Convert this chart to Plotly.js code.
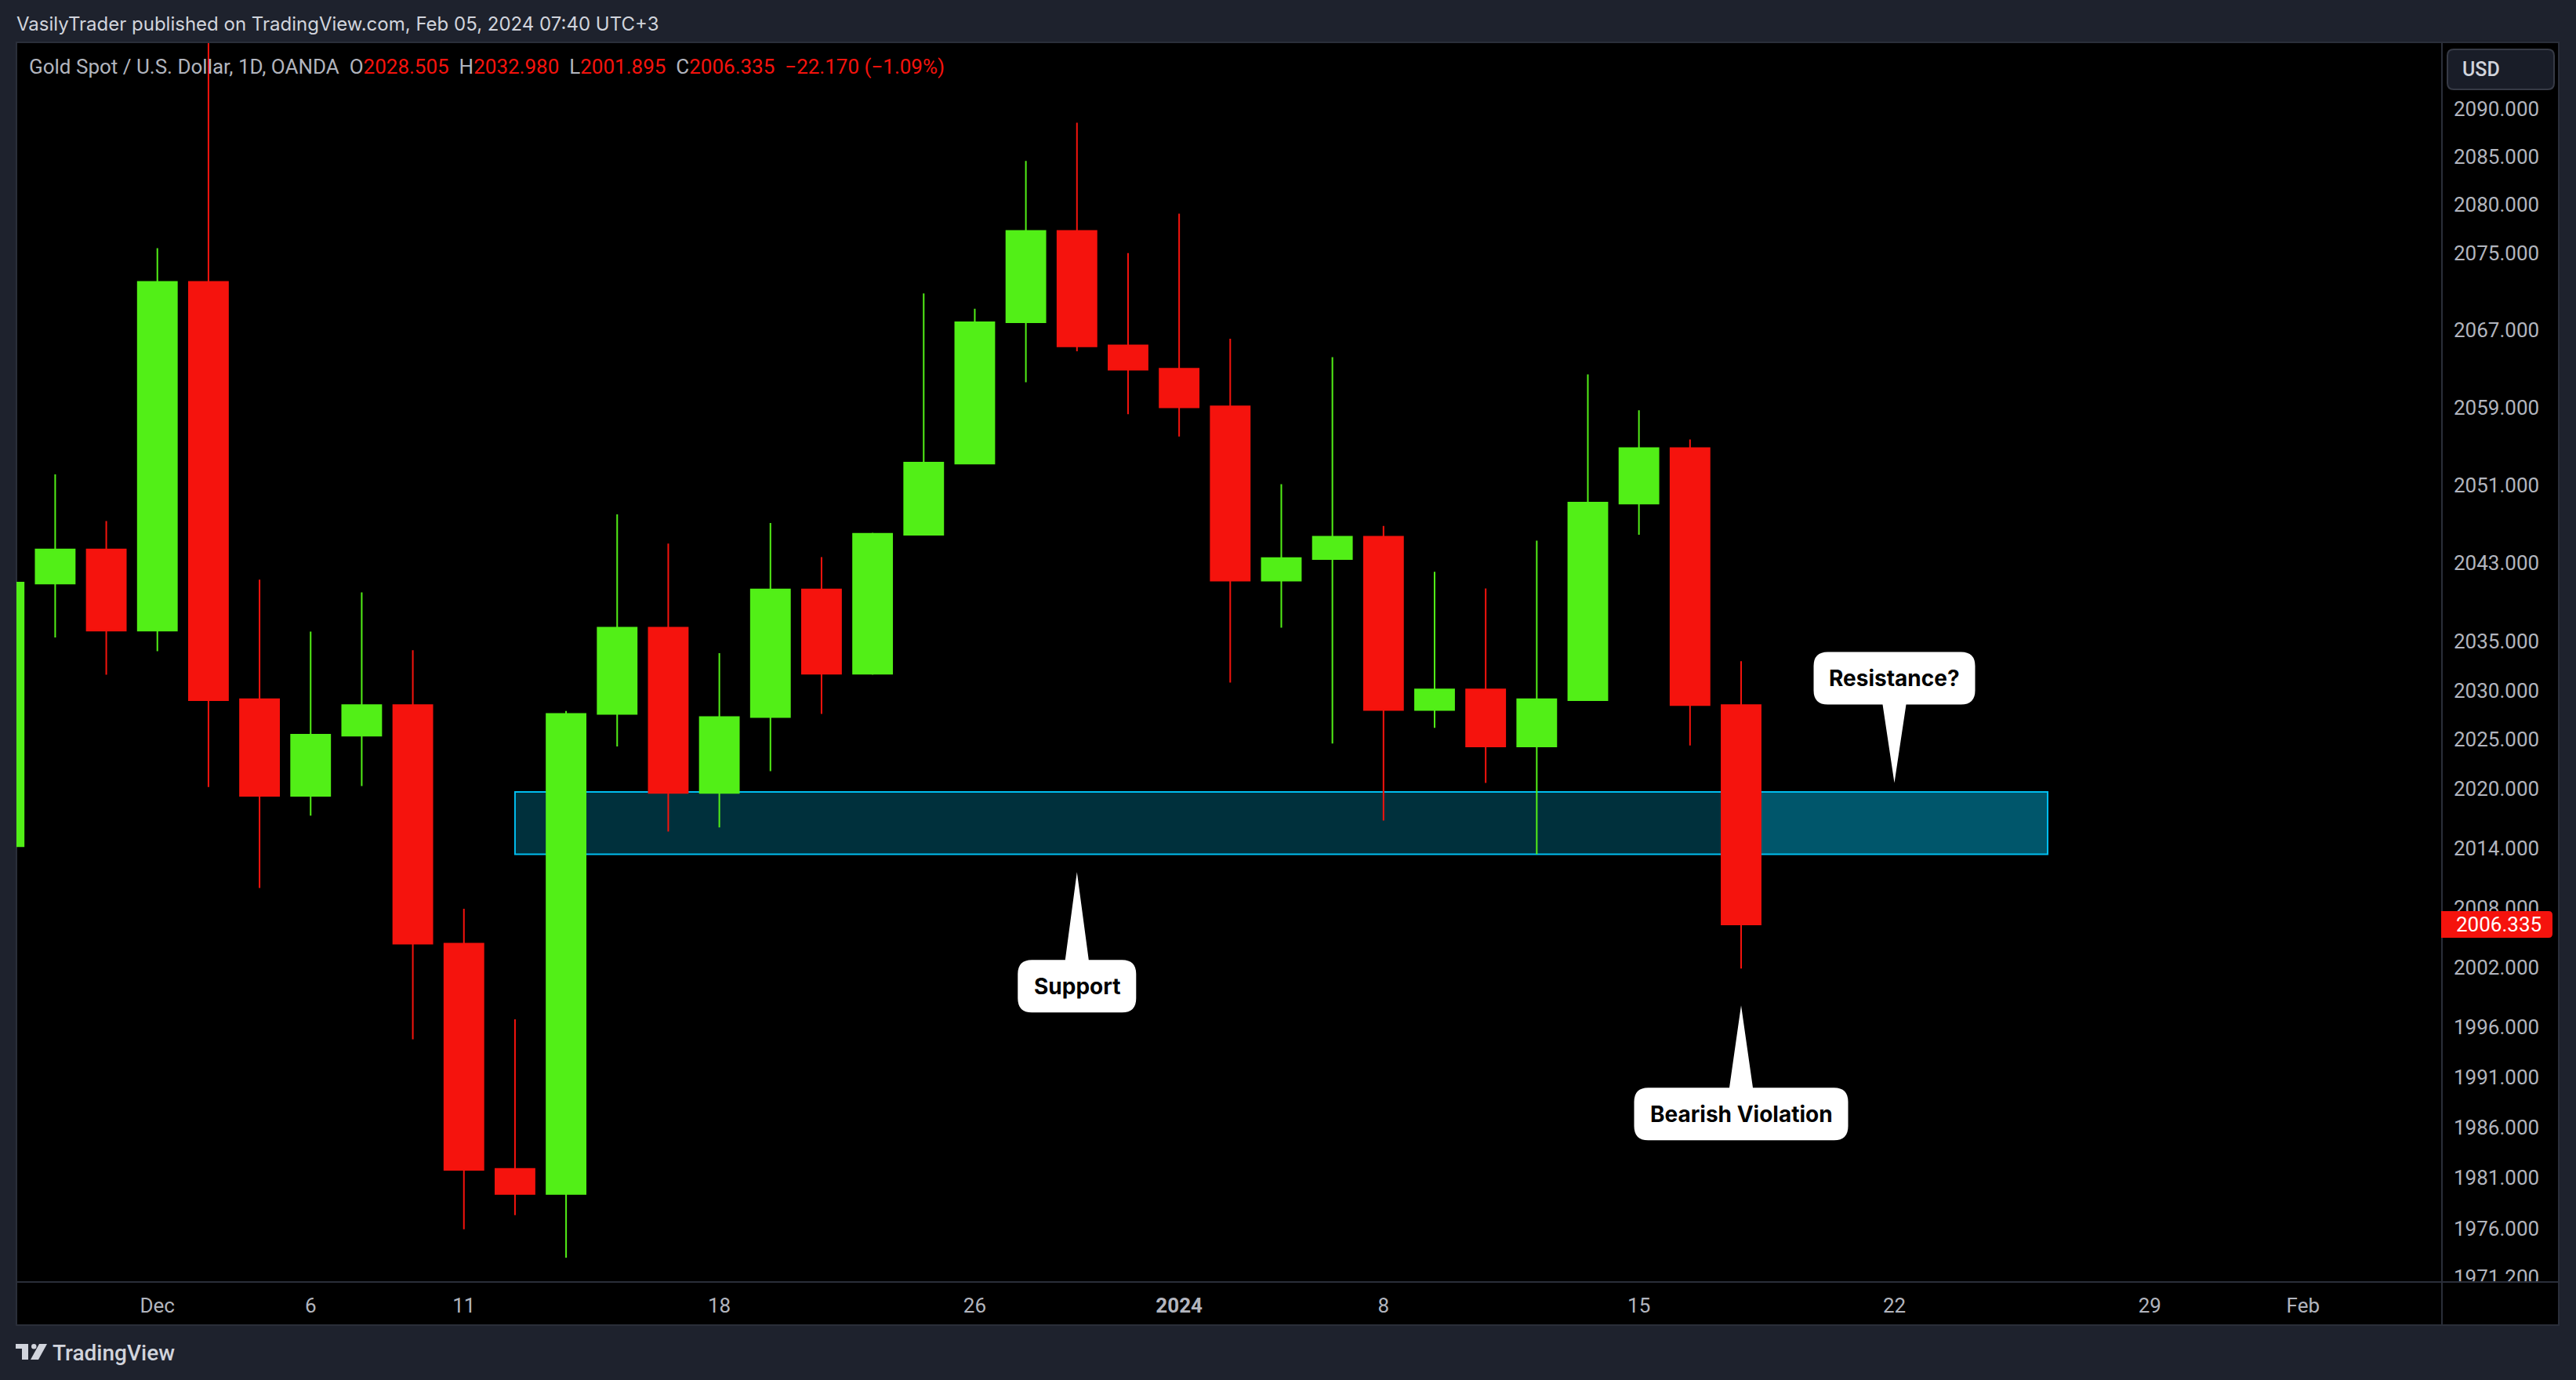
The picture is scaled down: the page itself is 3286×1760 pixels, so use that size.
<!DOCTYPE html>
<html>
<head>
<meta charset="utf-8">
<script src="https://cdn.plot.ly/plotly-3.0.1.min.js"></script>
<style>
  html, body { margin: 0; padding: 0; background: #1e222d; }
  #chart { width: 3286px; height: 1760px; }
</style>
</head>
<body>
<div id="chart"></div>
<script>
// ---------------- DATA ----------------
const dates = ['2023-11-28','2023-11-29','2023-11-30','2023-12-01','2023-12-04','2023-12-05','2023-12-06','2023-12-07','2023-12-08',
  '2023-12-11','2023-12-12','2023-12-13','2023-12-14','2023-12-15','2023-12-18','2023-12-19','2023-12-20','2023-12-21','2023-12-22',
  '2023-12-26','2023-12-27','2023-12-28','2023-12-29','2024-01-02','2024-01-03','2024-01-04','2024-01-05','2024-01-08','2024-01-09',
  '2024-01-10','2024-01-11','2024-01-12','2024-01-15','2024-01-16','2024-01-17'];
const openP  = [2014.2,2040.9,2044.4,2036.1,2072.0,2029.1,2019.3,2025.4,2028.5,2004.4,1981.9,1979.4,2027.6,2036.4,2019.6,2027.3,2040.3,2031.7,2045.9,
  2053.2,2067.8,2077.3,2065.4,2063.0,2059.1,2041.2,2043.4,2045.7,2028.0,2030.1,2024.3,2029.0,2049.1,2054.8,2028.505];
const highP  = [2048.3,2052.1,2047.3,2075.5,2135.4,2041.3,2036.0,2040.0,2034.1,2007.9,1996.8,2027.9,2048.0,2045.0,2033.8,2047.1,2043.6,2046.1,2070.8,
  2069.2,2084.6,2088.6,2075.0,2079.1,2066.1,2051.1,2064.2,2046.8,2042.1,2040.4,2045.3,2062.4,2058.7,2055.7,2032.980];
const lowP   = [2010.0,2035.4,2031.6,2034.0,2020.2,2010.0,2017.3,2020.3,1994.8,1975.9,1977.3,1973.1,2024.3,2015.7,2016.1,2021.8,2027.6,2031.6,2045.9,
  2053.2,2061.6,2064.8,2058.3,2056.0,2030.8,2036.4,2024.6,2016.8,2026.2,2020.6,2013.4,2029.0,2045.9,2024.4,2001.895];
const closeP = [2041.0,2044.4,2036.1,2072.0,2029.0,2019.3,2025.5,2028.5,2004.4,1981.8,1979.4,2027.6,2036.4,2019.6,2027.3,2040.3,2031.7,2046.0,2053.3,
  2067.8,2077.3,2065.3,2062.9,2059.0,2041.2,2043.5,2045.7,2028.0,2030.1,2024.3,2029.1,2049.2,2054.8,2028.505,2006.335];
const futureDates = ['2024-01-18','2024-01-19','2024-01-22','2024-01-23','2024-01-24','2024-01-25','2024-01-26',
  '2024-01-29','2024-01-30','2024-01-31','2024-02-01','2024-02-02','2024-02-05'];
const tickDates  = ['2023-12-01','2023-12-06','2023-12-11','2023-12-18','2023-12-26','2024-01-02','2024-01-08','2024-01-15','2024-01-22','2024-01-29','2024-02-01'];
const tickLabels = ['Dec','6','11','18','26','<b>2024</b>','8','15','22','29','Feb'];
const priceTicks = [2090,2085,2080,2075,2067,2059,2051,2043,2035,2030,2025,2020,2014,2008,2002,1996,1991,1986,1981,1976,1971.2];
const zoneDates  = ['2023-12-12','2024-01-17','2024-01-25'];
const zonePrices = [2013.4, 2019.7];
const calloutTexts  = ['Support','Resistance?','Bearish Violation'];
const calloutDates  = ['2023-12-28','2024-01-22','2024-01-17'];
const calloutPrices = [2011.6, 2020.6, 1998.2];
const headerText = 'VasilyTrader published on TradingView.com, Feb 05, 2024 07:40 UTC+3';
const symbolText = 'Gold Spot / U.S. Dollar, 1D, OANDA';

// ---------------- LAYOUT HELPERS ----------------
const UP = '#52ef17', DN = '#f5130d';
const GRAY = '#b2b5be', LIGHT = '#d1d4dc', FRAME = '#2a2e39';
const PL = 21, PR = 3115, PT = 55, PB = 1635;
const PW = PR - PL, PH = PB - PT;
const px2x = px => (px - PL) / PW;
const py2y = py => (PB - py) / PH;
const yr = [Math.log10(1970.69), Math.log10(2096.94)];
const pricePaper = p => (Math.log10(p) - yr[0]) / (yr[1] - yr[0]);
const allDates = dates.concat(futureDates);
const idx = d => allDates.indexOf(d);
const xs = dates.map(idx);
const n = dates.length;

// callout geometry (pixels)
const calloutGeo = [
  {dir: 'up',   w: 151, g: 112, h: 67},
  {dir: 'down', w: 206, g: 100, h: 67},
  {dir: 'up',   w: 273, g: 105, h: 67}
];
function calloutPath(w, g, h, dir) {
  const s = dir === 'up' ? -1 : 1;
  const y1 = s * g, y2 = s * (g + h);
  const L = -w / 2, R = w / 2, r = 18, b = 15;
  return `M0,0 L${b},${y1} L${R - r},${y1} Q${R},${y1} ${R},${y1 + s * r} L${R},${y2 - s * r} Q${R},${y2} ${R - r},${y2} ` +
         `L${L + r},${y2} Q${L},${y2} ${L},${y2 - s * r} L${L},${y1 + s * r} Q${L},${y1} ${L + r},${y1} L${-b},${y1} Z`;
}

const shapes = [];
// black chart background with frame
shapes.push({type: 'rect', xref: 'paper', yref: 'paper', x0: px2x(21), x1: px2x(3264), y0: py2y(1690), y1: py2y(54),
  fillcolor: '#000', line: {color: FRAME, width: 2}, layer: 'below'});
// support / resistance zone
shapes.push({type: 'rect', xref: 'x', yref: 'paper', x0: idx(zoneDates[0]), x1: idx(zoneDates[1]),
  y0: pricePaper(zonePrices[0]), y1: pricePaper(zonePrices[1]), fillcolor: '#00303c', line: {width: 0}, layer: 'below'});
shapes.push({type: 'rect', xref: 'x', yref: 'paper', x0: idx(zoneDates[1]), x1: idx(zoneDates[2]),
  y0: pricePaper(zonePrices[0]), y1: pricePaper(zonePrices[1]), fillcolor: '#00566b', line: {width: 0}, layer: 'below'});
shapes.push({type: 'rect', xref: 'x', yref: 'paper', x0: idx(zoneDates[0]), x1: idx(zoneDates[2]),
  y0: pricePaper(zonePrices[0]), y1: pricePaper(zonePrices[1]), fillcolor: 'rgba(0,0,0,0)', line: {color: '#00bef0', width: 2}, layer: 'below'});
// callouts
calloutTexts.forEach((t, i) => {
  const g = calloutGeo[i];
  shapes.push({type: 'path', xref: 'x', yref: 'paper', xsizemode: 'pixel', ysizemode: 'pixel',
    xanchor: idx(calloutDates[i]), yanchor: pricePaper(calloutPrices[i]),
    path: calloutPath(g.w, g.g, g.h, g.dir), fillcolor: '#ffffff', line: {width: 0}, layer: 'above'});
});
// mask below y-axis (corner) and frame lines
shapes.push({type: 'rect', xref: 'paper', yref: 'paper', x0: px2x(3116), x1: px2x(3263), y0: py2y(1689), y1: py2y(1636),
  fillcolor: '#000', line: {width: 0}, layer: 'above'});
shapes.push({type: 'line', xref: 'paper', yref: 'paper', x0: px2x(21), x1: px2x(3264), y0: py2y(1635), y1: py2y(1635),
  line: {color: FRAME, width: 2}, layer: 'above'});
shapes.push({type: 'line', xref: 'paper', yref: 'paper', x0: px2x(3115), x1: px2x(3115), y0: py2y(1690), y1: py2y(54),
  line: {color: FRAME, width: 2}, layer: 'above'});
// last price label on the axis
shapes.push({type: 'path', xref: 'paper', yref: 'paper', xsizemode: 'pixel', ysizemode: 'pixel',
  xanchor: 1, yanchor: pricePaper(closeP[n - 1]),
  path: 'M-1,17 L136,17 Q141,17 141,12 L141,-12 Q141,-17 136,-17 L-1,-17 Z', fillcolor: DN, line: {width: 0}, layer: 'above'});
// USD button
shapes.push({type: 'path', xref: 'paper', yref: 'paper', xsizemode: 'pixel', ysizemode: 'pixel',
  xanchor: 1, yanchor: 1,
  path: 'M15,-8 L135,-8 Q143,-8 143,-16 L143,-51 Q143,-59 135,-59 L15,-59 Q7,-59 7,-51 L7,-16 Q7,-8 15,-8 Z',
  fillcolor: '#191d28', line: {color: '#363a45', width: 2}, layer: 'above'});
// TradingView logo mark (bottom left)
shapes.push({type: 'path', xref: 'paper', yref: 'paper',
  path: `M${px2x(20)},${py2y(1714)} L${px2x(36)},${py2y(1714)} L${px2x(36)},${py2y(1734)} L${px2x(28)},${py2y(1734)} L${px2x(28)},${py2y(1720)} L${px2x(20)},${py2y(1720)} Z`,
  fillcolor: LIGHT, line: {width: 0}, layer: 'above'});
shapes.push({type: 'circle', xref: 'paper', yref: 'paper', x0: px2x(40), x1: px2x(46.5), y0: py2y(1720.5), y1: py2y(1714),
  fillcolor: LIGHT, line: {width: 0}, layer: 'above'});
shapes.push({type: 'path', xref: 'paper', yref: 'paper',
  path: `M${px2x(50)},${py2y(1714)} L${px2x(60)},${py2y(1714)} L${px2x(49)},${py2y(1734)} L${px2x(39)},${py2y(1734)} Z`,
  fillcolor: LIGHT, line: {width: 0}, layer: 'above'});

// annotations
const last = n - 1;
const chg = closeP[last] - closeP[last - 1];
const pct = chg / closeP[last - 1] * 100;
const fmt = v => v.toFixed(3);
const neg = s => s.replace('-', '\u2212');
const red = s => `<span style="color:${DN}">${s}</span>`;
const sp = '\u00a0\u00a0';
const legendText = symbolText + sp + 'O' + red(fmt(openP[last])) + sp + 'H' + red(fmt(highP[last])) + sp +
  'L' + red(fmt(lowP[last])) + sp + 'C' + red(fmt(closeP[last])) + sp +
  red(neg(chg.toFixed(3)) + ' (' + neg(pct.toFixed(2)) + '%)');

const annotations = [
  {xref: 'paper', yref: 'paper', x: px2x(19), y: py2y(31), xanchor: 'left', yanchor: 'middle', showarrow: false,
   text: headerText, font: {family: 'Inter', size: 24, color: LIGHT}},
  {xref: 'paper', yref: 'paper', x: px2x(35), y: py2y(85), xanchor: 'left', yanchor: 'middle', showarrow: false,
   text: legendText, font: {family: 'Roboto', size: 26, color: GRAY}},
  {xref: 'paper', yref: 'paper', x: 1, y: pricePaper(closeP[last]), xanchor: 'left', yanchor: 'middle', xshift: 16, showarrow: false,
   text: fmt(closeP[last]), font: {family: 'Roboto', size: 26, color: '#ffffff'}},
  {xref: 'paper', yref: 'paper', x: px2x(3139), y: py2y(88), xanchor: 'left', yanchor: 'middle', showarrow: false,
   text: 'USD', font: {family: 'Roboto', size: 25, color: LIGHT, weight: 500}},
  {xref: 'paper', yref: 'paper', x: px2x(65), y: py2y(1725), xanchor: 'left', yanchor: 'middle', showarrow: false,
   text: 'TradingView', font: {family: 'Roboto', size: 28, color: LIGHT, weight: 500}}
];
calloutTexts.forEach((t, i) => {
  const g = calloutGeo[i];
  const s = g.dir === 'up' ? -1 : 1;
  annotations.push({xref: 'x', yref: 'paper', x: idx(calloutDates[i]), y: pricePaper(calloutPrices[i]),
    xanchor: 'center', yanchor: 'middle', yshift: s * (g.g + g.h / 2), showarrow: false,
    text: t, font: {family: 'Inter', size: 28, color: '#000000', weight: 700}});
});

const trace = {
  type: 'candlestick', x: xs, open: openP, high: highP, low: lowP, close: closeP,
  increasing: {line: {color: UP, width: 2}, fillcolor: UP},
  decreasing: {line: {color: DN, width: 2}, fillcolor: DN},
  whiskerwidth: 0, hoverinfo: 'skip', showlegend: false
};

const layout = {
  width: 3286, height: 1760,
  margin: {l: PL, r: 3286 - PR, t: PT, b: 1760 - PB, pad: 0},
  paper_bgcolor: '#1e222d', plot_bgcolor: '#000000',
  boxgap: 0.235, boxgroupgap: 0, showlegend: false,
  xaxis: {type: 'linear', range: [0.242, 47.718], rangeslider: {visible: false}, showgrid: false, zeroline: false,
    showline: false, tickmode: 'array', tickvals: tickDates.map(idx), ticktext: tickLabels, ticks: '',
    ticklabelstandoff: 12, automargin: false, tickfont: {family: 'Roboto', size: 26, color: GRAY}},
  yaxis: {type: 'log', range: yr, side: 'right', showgrid: false, zeroline: false, showline: false,
    tickmode: 'array', tickvals: priceTicks, ticktext: priceTicks.map(v => v.toFixed(3)), ticks: '',
    ticklabelstandoff: 14, automargin: false, tickfont: {family: 'Roboto', size: 26, color: GRAY}},
  shapes: shapes,
  annotations: annotations
};

Plotly.newPlot('chart', [trace], layout, {staticPlot: true, displayModeBar: false});
</script>
</body>
</html>
